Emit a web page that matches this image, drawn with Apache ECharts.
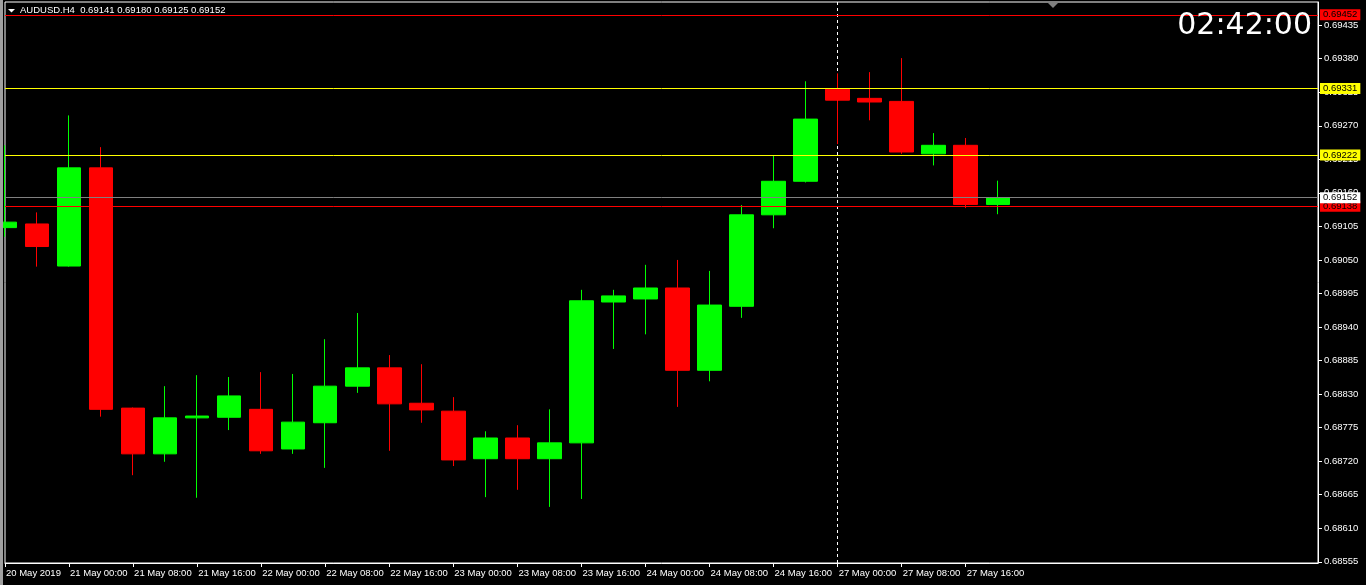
<!DOCTYPE html>
<html><head><meta charset="utf-8">
<script src="https://cdn.jsdelivr.net/npm/echarts@6/dist/echarts.min.js"></script>
<style>html,body{margin:0;padding:0;background:#000;overflow:hidden}#c{width:1366px;height:585px}</style>
</head><body><div id="c"></div>
<script>
const symbol = 'AUDUSD.H4';
const clockText = '02:42:00';
const categories = [
  '20 May 2019','20 May 20:00',
  '21 May 00:00','21 May 04:00','21 May 08:00','21 May 12:00','21 May 16:00','21 May 20:00',
  '22 May 00:00','22 May 04:00','22 May 08:00','22 May 12:00','22 May 16:00','22 May 20:00',
  '23 May 00:00','23 May 04:00','23 May 08:00','23 May 12:00','23 May 16:00','23 May 20:00',
  '24 May 00:00','24 May 04:00','24 May 08:00','24 May 12:00','24 May 16:00','24 May 20:00',
  '27 May 00:00','27 May 04:00','27 May 08:00','27 May 12:00','27 May 16:00','27 May 20:00',
  '28 May 00:00','28 May 04:00','28 May 08:00','28 May 12:00','28 May 16:00','28 May 20:00',
  '29 May 00:00','29 May 04:00','29 May 08:00','29 May 12:00'
];
const opens  = [0.69103,0.69109,0.69040,0.69201,0.68807,0.68732,0.68791,0.68792,0.68805,0.68740,0.68783,0.68843,0.68873,0.68815,0.68802,0.68724,0.68758,0.68724,0.68750,0.68981,0.68986,0.69004,0.68869,0.68974,0.69124,0.69179,0.69330,0.69315,0.69310,0.69224,0.69238,0.69141];
const highs  = [0.69238,0.69128,0.69287,0.69235,0.68808,0.68843,0.68861,0.68858,0.68866,0.68863,0.68920,0.68963,0.68894,0.68879,0.68825,0.68769,0.68779,0.68805,0.69001,0.69001,0.69042,0.69050,0.69032,0.69140,0.69222,0.69343,0.69356,0.69358,0.69381,0.69258,0.69250,0.69180];
const lows   = [0.69088,0.69039,0.69039,0.68793,0.68697,0.68719,0.68660,0.68771,0.68732,0.68732,0.68709,0.68832,0.68737,0.68783,0.68712,0.68661,0.68673,0.68645,0.68658,0.68904,0.68928,0.68809,0.68851,0.68955,0.69102,0.69177,0.69240,0.69279,0.69224,0.69205,0.69135,0.69125];
const closes = [0.69112,0.69072,0.69201,0.68805,0.68732,0.68791,0.68794,0.68827,0.68737,0.68784,0.68843,0.68873,0.68814,0.68804,0.68722,0.68758,0.68724,0.68750,0.68983,0.68991,0.69004,0.68869,0.68976,0.69124,0.69179,0.69281,0.69312,0.69309,0.69227,0.69238,0.69141,0.69152];
const yTicks = [0.68555,0.68610,0.68665,0.68720,0.68775,0.68830,0.68885,0.68940,0.68995,0.69050,0.69105,0.69160,0.69215,0.69270,0.69325,0.69380,0.69435];
const yMin = 0.68553, yMax = 0.69473;
const levelValues = [0.69452, 0.69331, 0.69222, 0.69138];
const levelColors = ['#ff0000', '#ffff00', '#ffff00', '#ff0000'];
const vLineAt = '27 May 00:00';

const FONT = '"Liberation Sans", Arial, sans-serif';
const n = opens.length;
const candleData = opens.map((o, i) => [o, closes[i], lows[i], highs[i]]);
const showIdx = (idx) => idx % 2 === 0 && idx < n;
const bid = closes[n - 1];
const header = symbol + '  ' + [opens[n-1], highs[n-1], lows[n-1], closes[n-1]].map(v => v.toFixed(5)).join(' ');

const tagLabel = (v, bg) => ({
  show: true, position: 'end', distance: 2, formatter: v.toFixed(5),
  backgroundColor: bg, color: '#000', padding: [0, 3, 0, 3], lineHeight: 11,
  fontSize: 9.5, fontFamily: FONT
});
const hLines = levelValues.map((v, i) => ({
  yAxis: v, lineStyle: { color: levelColors[i], width: 1, type: 'solid' },
  label: tagLabel(v, levelColors[i])
}));
hLines.push({ yAxis: bid, lineStyle: { color: '#808080', width: 1, type: 'solid' }, label: tagLabel(bid, '#ffffff') });

const chart = echarts.init(document.getElementById('c'), null, { renderer: 'canvas' });
chart.setOption({
  animation: false,
  backgroundColor: '#000',
  grid: { left: 5, right: 48, top: 2, bottom: 22, show: true, borderColor: '#fff', borderWidth: 1, backgroundColor: '#000' },
  xAxis: {
    type: 'category', data: categories, boundaryGap: false,
    axisLine: { lineStyle: { color: '#fff', width: 1 } },
    axisTick: { show: true, length: 4, interval: showIdx, lineStyle: { color: '#fff' } },
    axisLabel: { interval: showIdx, color: '#fff', fontSize: 9.5, fontFamily: FONT, align: 'left', margin: 5, padding: [0, 0, 0, 1] },
    splitLine: { show: false }
  },
  yAxis: {
    type: 'value', position: 'right', min: yMin, max: yMax,
    axisLine: { show: true, lineStyle: { color: '#fff' } },
    axisTick: { show: true, length: 4, customValues: yTicks, lineStyle: { color: '#fff' } },
    axisLabel: { customValues: yTicks, formatter: v => v.toFixed(5), color: '#fff', fontSize: 9.5, fontFamily: FONT, margin: 6 },
    splitLine: { show: false }
  },
  series: [
    {
      type: 'line', data: [], z: 1, silent: true,
      markLine: { silent: true, z: 1, symbol: ['none', 'none'], label: { show: false },
        lineStyle: { color: '#fff', width: 1, type: [3, 3] }, data: [{ xAxis: vLineAt }] }
    },
    {
      type: 'candlestick', data: candleData, barWidth: 24, clip: true, z: 3, silent: true,
      itemStyle: { color: '#00ff00', color0: '#ff0000', borderColor: '#00ff00', borderColor0: '#ff0000', borderWidth: 1 },
      markLine: { silent: true, z: 5, precision: 5, symbol: ['none', 'none'], data: hLines }
    }
  ],
  graphic: [
    { type: 'rect', z: 100, shape: { x: 0, y: 0, width: 3, height: 585 }, style: { fill: '#a0a0a0' } },
    { type: 'polygon', z: 100, shape: { points: [[8, 9], [15, 9], [11.5, 12.5]] }, style: { fill: '#fff' } },
    { type: 'text', z: 100, style: { text: header, x: 20, y: 10.5, fill: '#fff', fontSize: 9.5, fontFamily: FONT, verticalAlign: 'middle' } },
    { type: 'text', z: 100, style: { text: clockText, x: 1312, y: 26, fill: '#fff', fontSize: 30, fontFamily: '"DejaVu Sans", sans-serif', align: 'right', verticalAlign: 'middle' } },
    { type: 'polygon', z: 100, shape: { points: [[1048, 3], [1058, 3], [1053, 8]] }, style: { fill: '#808080' } }
  ]
});
</script></body></html>
